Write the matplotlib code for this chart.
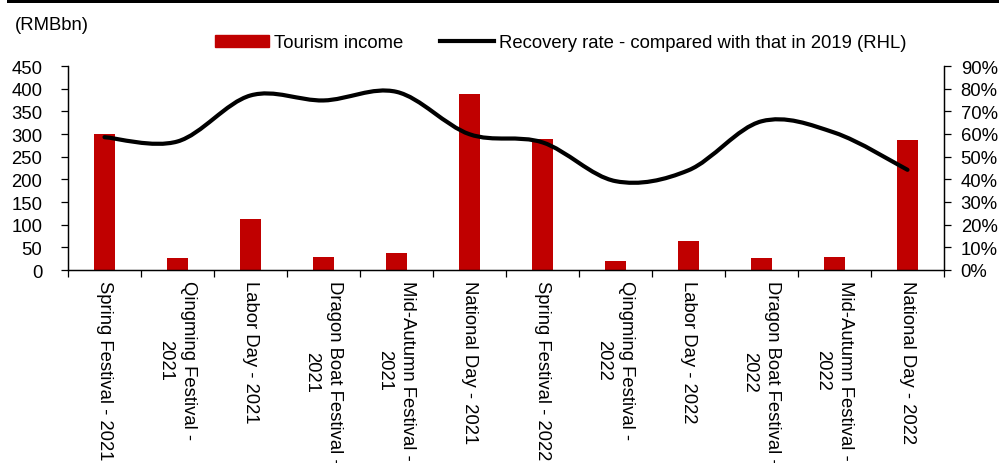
import numpy as np
import matplotlib
matplotlib.use("Agg")
import matplotlib.pyplot as plt
from matplotlib.path import Path
from matplotlib.patches import PathPatch, Rectangle, Patch
from matplotlib.lines import Line2D
from matplotlib.ticker import FuncFormatter

plt.rcParams['font.family'] = ['Liberation Sans', 'DejaVu Sans']

# holiday periods
categories = [
    "Spring Festival - 2021", "Qingming Festival -\n2021", "Labor Day - 2021",
    "Dragon Boat Festival -\n2021", "Mid-Autumn Festival -\n2021", "National Day - 2021",
    "Spring Festival - 2022", "Qingming Festival -\n2022", "Labor Day - 2022",
    "Dragon Boat Festival -\n2022", "Mid-Autumn Festival -\n2022", "National Day - 2022",
]
# tourism income, RMBbn
tourism_income = [301.1, 27.1, 113.2, 29.4, 37.2, 389.1, 289.1, 18.8, 64.7, 25.8, 28.7, 287.2]
# recovery rate vs 2019
recovery_rate = [0.586, 0.567, 0.770, 0.748, 0.786, 0.599, 0.563, 0.392, 0.440, 0.656, 0.606, 0.442]

left_ticks = list(range(0, 451, 50))
right_ticks = [i / 10 for i in range(10)]

RED = '#C00000'
FS = 13.3


def smooth_path(xs, ys):
    # excel-like smoothed line: bezier segments through every point
    pts = np.column_stack([xs, ys]).astype(float)
    n = len(pts)
    verts = [pts[0]]
    codes = [Path.MOVETO]
    for i in range(n - 1):
        p0 = pts[i - 1] if i > 0 else pts[i]
        p1 = pts[i]
        p2 = pts[i + 1]
        p3 = pts[i + 2] if i + 2 < n else pts[i + 1]
        verts += [p1 + (p2 - p0) / 6, p2 - (p3 - p1) / 6, p2]
        codes += [Path.CURVE4] * 3
    return Path(verts, codes)


def main():
    fig = plt.figure(figsize=(9.99, 4.64), dpi=100)
    ax = fig.add_axes([68 / 999, 193 / 464, 876 / 999, 204 / 464])
    ax2 = ax.twinx()

    x = np.arange(len(categories))
    ax.bar(x, tourism_income, width=0.3, color=RED, zorder=2)

    ax.set_xlim(-0.5, len(categories) - 0.5)
    ax.set_ylim(0, 450)
    ax2.set_ylim(0, 0.9)

    path = smooth_path(x, recovery_rate)
    ax2.add_patch(PathPatch(path, fill=False, edgecolor='black', lw=3,
                            capstyle='round', joinstyle='round', zorder=3))

    # spines
    for a in (ax, ax2):
        a.spines['top'].set_visible(False)
        for s in ('left', 'right', 'bottom'):
            a.spines[s].set_linewidth(0.9)
            a.spines[s].set_color('black')

    ax.set_yticks(left_ticks)
    ax.tick_params(axis='y', direction='out', length=5, width=0.9, pad=13.5, labelsize=FS)
    ax2.set_yticks(right_ticks)
    ax2.yaxis.set_major_formatter(FuncFormatter(lambda v, p: f"{v * 100:.0f}%"))
    ax2.tick_params(axis='y', direction='out', length=5, width=0.9, pad=7, labelsize=FS)

    # category boundaries get the tick marks, labels sit in the middle
    ax.set_xticks(np.arange(-0.5, len(categories), 1.0))
    ax.set_xticklabels([])
    ax.tick_params(axis='x', which='major', direction='out', length=5, width=0.9)
    ax.set_xticks(x, categories, minor=True)
    ax.tick_params(axis='x', which='minor', length=0, pad=7, labelsize=FS, labelrotation=270)
    for lab in ax.get_xticklabels(minor=True):
        lab.set_linespacing(1.45)

    fig.text(15 / 999, 1 - 25 / 464, "(RMBbn)", fontsize=FS, ha='left', va='center')

    handles = [Patch(color=RED), Line2D([0], [0], color='black', lw=3)]
    fig.legend(handles, ["Tourism income", "Recovery rate - compared with that in 2019 (RHL)"],
               loc='center', bbox_to_anchor=(561 / 999, 1 - 44 / 464), ncol=2, frameon=False,
               fontsize=FS, handlelength=2.9, handleheight=0.55, handletextpad=0.3,
               columnspacing=2.0, borderpad=0, borderaxespad=0)

    # thick rule along the top
    fig.add_artist(Rectangle((7 / 999, 1 - 3.5 / 464), 1, 3.5 / 464,
                             transform=fig.transFigure, color='black', lw=0))

    fig.savefig('out.png', dpi=100)


if __name__ == "__main__":
    main()
